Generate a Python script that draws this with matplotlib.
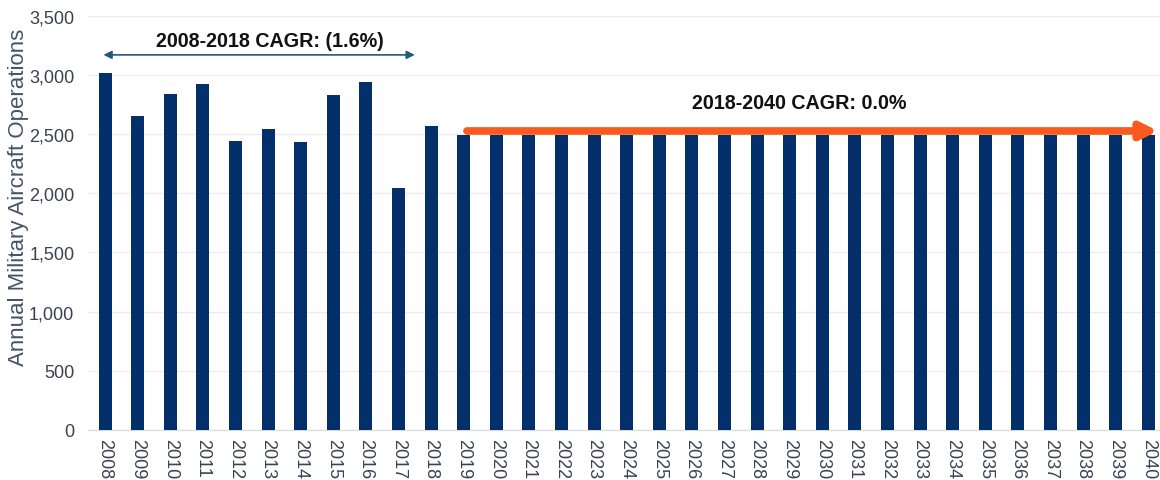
import matplotlib.pyplot as plt
import matplotlib.font_manager as fm
from matplotlib.ticker import FuncFormatter

years = [str(y) for y in range(2008, 2041)]
ops_hist = [3020, 2655, 2840, 2925, 2443, 2545, 2435, 2832, 2942, 2046, 2570]
ops_fcst = [2495] * 22
ops = ops_hist + ops_fcst

cagr_hist_label = '2008-2018 CAGR: (1.6%)'
cagr_fcst_label = '2018-2040 CAGR: 0.0%'

names = {f.name for f in fm.fontManager.ttflist}
narrow = 'Liberation Sans Narrow' if 'Liberation Sans Narrow' in names else 'Liberation Sans'

plt.rcParams['font.family'] = ['Liberation Sans', 'DejaVu Sans']

fig = plt.figure(figsize=(11.6, 4.81), dpi=100)
ax = fig.add_axes([0.076, 0.104, 0.924, 0.861])

x = range(len(years))
ax.bar(x, ops, width=0.4, color='#032f6b', zorder=3)

ax.set_ylim(0, 3500)
ax.set_xlim(-0.52, 32.36)
ax.set_yticks(range(0, 3501, 500))
ax.yaxis.set_major_formatter(FuncFormatter(lambda v, p: f'{int(v):,}'))
ax.set_xticks(list(x))
ax.set_xticklabels(years, rotation=-90)
ax.tick_params(axis='both', length=0, labelsize=13, colors='#3a4150')
ax.tick_params(axis='x', pad=6)
ax.tick_params(axis='y', pad=10)
ax.grid(axis='y', color='#ececec', linewidth=1, zorder=0)
for s in ['top', 'right', 'left']:
    ax.spines[s].set_visible(False)
ax.spines['bottom'].set_color('#d9d9d9')
ax.set_ylabel('Annual Military Aircraft Operations', fontsize=16, color='#44546a')
ax.yaxis.set_label_coords(-0.055, 0.565)

# historical CAGR arrow
ax.annotate('', xy=(-0.05, 3170), xytext=(9.5, 3170),
            arrowprops=dict(arrowstyle='<|-|>', color='#1f5a7a', lw=1.2,
                            mutation_scale=12, shrinkA=0, shrinkB=0))
ax.text(5.05, 3295, cagr_hist_label, ha='center', va='center',
        fontsize=14.2, fontweight='bold', color='#111111')

# forecast CAGR arrow
ax.annotate('', xy=(32.3, 2527), xytext=(11.1, 2527),
            arrowprops=dict(arrowstyle='-|>', color='#fa5a1e', lw=5.5,
                            mutation_scale=24, shrinkA=0, shrinkB=0),
            zorder=5, annotation_clip=False)
ax.text(21.3, 2770, cagr_fcst_label, ha='center', va='center',
        fontsize=14.2, fontweight='bold', color='#111111', family=[narrow, 'DejaVu Sans'])

fig.savefig('out.png', dpi=100)
